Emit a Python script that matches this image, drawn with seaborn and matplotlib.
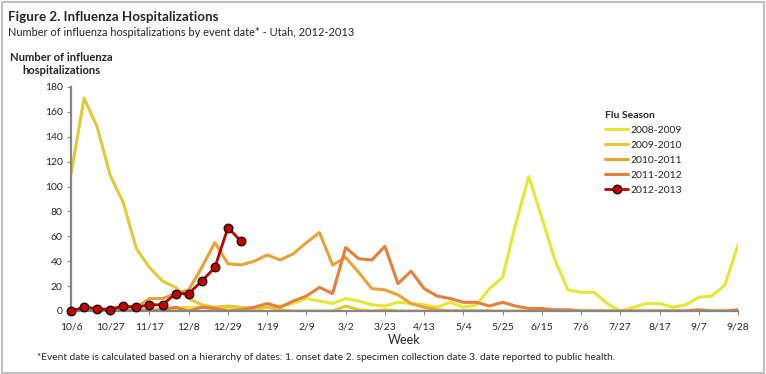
import numpy as np
import pandas as pd
import seaborn as sns
import matplotlib.pyplot as plt
from matplotlib.lines import Line2D
from matplotlib.patches import Rectangle

# weekly hospitalizations, week 0 = 10/6
s0809 = [0, 0, 1, 1, 1, 2, 1, 2, 2, 3, 3, 2, 3, 2, 1, 3, 4, 6, 10, 8, 6, 10, 8, 5, 4, 7,
         6, 5, 3, 7, 3, 5, 18, 27, 70, 108, 75, 41, 17, 15, 15, 6, 0, 3, 6, 6, 3, 5, 11, 12, 21, 53]
s0910 = [110, 171, 148, 109, 87, 50, 35, 24, 19, 10, 5, 3, 4, 3, 2, 3, 1, 0, 0, 0, 0, 4, 1, 0, 1, 0,
         0, 0, 0, 0, 0, 0, 0, 0, 0, 0, 0, 0, 0, 0, 0, 0, 0, 0, 0, 0, 0, 0, 0, 0, 0, 0]
s1011 = [0, 1, 1, 2, 4, 3, 10, 10, 14, 17, 35, 55, 38, 37, 40, 45, 41, 46, 55, 63, 37, 43, 31, 18, 17, 13,
         6, 3, 1, 0, 0, 0, 0]
s1112 = [0, 0, 0, 1, 1, 1, 0, 1, 3, 0, 3, 2, 0, 1, 3, 6, 3, 8, 12, 19, 14, 51, 42, 41, 52, 22,
         32, 18, 12, 10, 7, 7, 4, 7, 4, 2, 2, 1, 1, 0, 0, 0, 0, 0, 0, 0, 0, 0, 1, 0, 0, 1]
s1213 = [0, 3, 2, 1, 4, 3, 5, 5, 14, 14, 24, 35, 67, 56]

week_labels = ['10/6', '10/27', '11/17', '12/8', '12/29', '1/19', '2/9', '3/2', '3/23', '4/13',
               '5/4', '5/25', '6/15', '7/6', '7/27', '8/17', '9/7', '9/28']

seasons = ['2008-2009', '2009-2010', '2010-2011', '2011-2012', '2012-2013']
colors = {'2008-2009': '#E6E633', '2009-2010': '#E3C838', '2010-2011': '#E8A236',
          '2011-2012': '#E67F3C', '2012-2013': '#C00000'}

rows = []
for name, vals in zip(seasons[:4], [s0809, s0910, s1011, s1112]):
    for i, v in enumerate(vals):
        rows.append((name, i, v))
df = pd.DataFrame(rows, columns=['season', 'week', 'count'])
cur = pd.DataFrame({'week': range(len(s1213)), 'count': s1213})

sns.set_style('white')
plt.rcParams['font.family'] = ['Lato', 'DejaVu Sans']

fig = plt.figure(figsize=(7.66, 3.74), dpi=100)
ax = fig.add_axes([71 / 766, 1 - 311 / 374, 667 / 766, 224 / 374])

sns.lineplot(data=df, x='week', y='count', hue='season', hue_order=seasons[:4],
             palette=colors, linewidth=2.2, legend=False, ax=ax)
sns.lineplot(data=cur, x='week', y='count', color=colors['2012-2013'], linewidth=2,
             marker='o', markersize=6.3, markerfacecolor='#C00000',
             markeredgecolor='black', markeredgewidth=0.8, ax=ax, zorder=5, clip_on=False)

ax.set_xlim(0, 51)
ax.set_ylim(0, 180)
ax.set_yticks(range(0, 181, 20))
ax.set_xticks(range(0, 52, 3))
ax.set_xticklabels(week_labels)
ax.tick_params(axis='both', labelsize=7.5, length=3, width=0.8, color='#868686',
               direction='out', left=True, bottom=True, pad=3)
ax.tick_params(axis='x', pad=5)
for s in ['top', 'right']:
    ax.spines[s].set_visible(False)
for s in ['left', 'bottom']:
    ax.spines[s].set_color('#868686')
    ax.spines[s].set_linewidth(1.6)
ax.set_xlabel('Week', fontsize=9, labelpad=2)
ax.set_ylabel('')

handles = [Line2D([], [], color=colors[s], linewidth=2.2) for s in seasons[:4]]
handles.append(Line2D([], [], color='#C00000', linewidth=2, marker='o', markersize=6.3,
                      markerfacecolor='#C00000', markeredgecolor='black', markeredgewidth=0.8))
leg = ax.legend(handles, seasons, title='Flu Season', loc='upper left',
                bbox_to_anchor=(0.795, 0.912), frameon=False, fontsize=7.5,
                handlelength=2.2, handletextpad=0.2, labelspacing=0.55,
                alignment='left', borderaxespad=0)
leg.get_title().set_fontweight('bold')
leg.get_title().set_fontsize(7.5)

fig.text(8 / 766, 1 - 17 / 374, 'Figure 2. Influenza Hospitalizations', fontsize=9.6,
         fontweight='bold', va='center')
fig.text(8 / 766, 1 - 33 / 374,
         'Number of influenza hospitalizations by event date* - Utah, 2012-2013',
         fontsize=7.9, va='center')
fig.text(61 / 766, 1 - 64 / 374, 'Number of influenza\nhospitalizations', fontsize=8.1,
         fontweight='bold', ha='center', va='center', linespacing=1.3)
fig.text(37 / 766, 1 - 357 / 374,
         '*Event date is calculated based on a hierarchy of dates: 1. onset date 2. '
         'specimen collection date 3. date reported to public health.',
         fontsize=7.3, va='center')

fig.patches.append(Rectangle((0.002, 0.004), 0.995, 0.99, transform=fig.transFigure,
                             fill=False, edgecolor='#BFBFBF', linewidth=1.5))

fig.savefig('out.png', dpi=100)
